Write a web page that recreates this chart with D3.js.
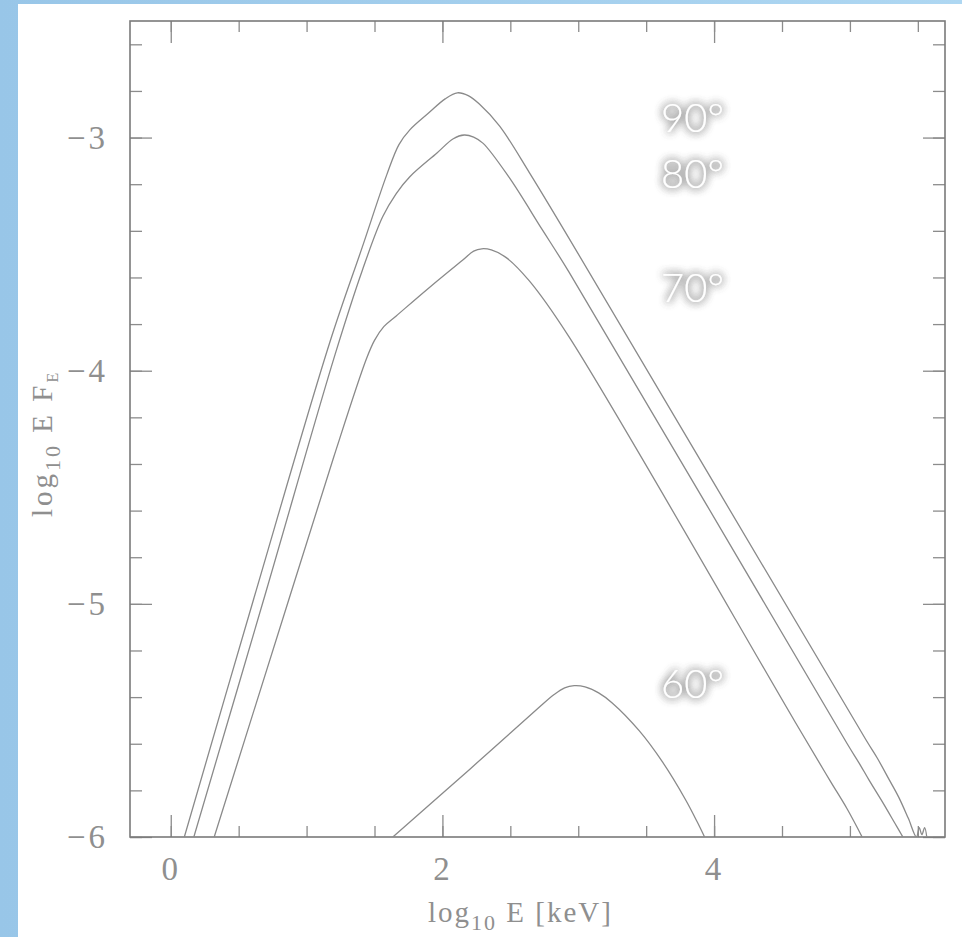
<!DOCTYPE html>
<html>
<head>
<meta charset="utf-8">
<script src="https://cdn.jsdelivr.net/npm/d3@7"></script>
<style>
  body { margin: 0; background: #fff; }
  svg { display: block; }
  .tick text { font-family: "Liberation Serif", serif; fill: #8f8f8f; }
  .tick line { stroke: #8c8c8c; stroke-width: 1.3; }
  .domain { display: none; }
</style>
</head>
<body>
<div id="chart"></div>
<script>
// spectra: [log10 E (keV), log10 E F_E]
let spectrum90 = [[0.10,-6.00],[0.61,-4.98],[1.17,-3.88],[1.41,-3.47],[1.59,-3.16],[1.68,-3.03],
    [1.76,-2.967],[1.90,-2.894],[2.02,-2.834],[2.11,-2.808],[2.19,-2.82],[2.27,-2.855],
    [2.42,-2.95],[2.64,-3.15],[2.93,-3.43],[5.12,-5.585],[5.20,-5.66],[5.29,-5.755],[5.36,-5.83],
    [5.43,-5.92],[5.49,-6.00],[5.51,-5.96],[5.53,-5.99],[5.55,-5.96],[5.57,-6.02]];
let spectrum80 = [[0.17,-6.00],[0.70,-4.95],[1.21,-3.93],[1.41,-3.57],[1.56,-3.34],
    [1.66,-3.24],[1.76,-3.168],[1.96,-3.066],[2.08,-3.005],[2.16,-2.989],[2.23,-2.998],[2.30,-3.025],
    [2.49,-3.17],[2.735,-3.395],[2.93,-3.575],[4.98,-5.60],[5.07,-5.685],
    [5.14,-5.755],[5.25,-5.86],[5.33,-5.94],[5.39,-6.00]];
let spectrum70 = [[0.32,-6.00],[0.87,-4.98],[1.20,-4.37],[1.44,-3.95],[1.50,-3.87],[1.57,-3.81],
    [1.66,-3.765],[1.90,-3.645],[2.15,-3.525],[2.23,-3.487],[2.29,-3.477],[2.36,-3.482],[2.47,-3.515],
    [2.64,-3.615],[2.93,-3.853],[4.60,-5.51],[4.85,-5.755],[4.98,-5.88],
    [5.09,-6.00]];
let spectrum60 = [[1.635,-6.00],[2.20,-5.71],[2.70,-5.45],[2.82,-5.39],[2.90,-5.36],[2.97,-5.351],
    [3.05,-5.356],[3.15,-5.382],[3.25,-5.425],[3.45,-5.545],[3.62,-5.678],[3.79,-5.84],[3.88,-5.94],
    [3.93,-6.00]];

let angles = ["90°", "80°", "70°", "60°"];
let labelX = [3.61, 3.61, 3.61, 3.61];
let labelY = [-2.976, -3.216, -3.705, -5.403];

let xMajor = [0, 2, 4];
let xMinor = d3.range(0, 5.75, 0.5);
let yMajor = [-6, -5, -4, -3];
let yMinor = d3.range(-6, -2.5, 0.2);

const W = 962, H = 937;
const plotL = 130, plotR = 945, plotT = 21, plotB = 837;

let svg = d3.select("#chart").append("svg").attr("width", W).attr("height", H);
let defs = svg.append("defs");

let grad = defs.append("linearGradient").attr("id", "strip").attr("x1", 0).attr("x2", 1);
grad.append("stop").attr("offset", 0).attr("stop-color", "#98c6e8");
grad.append("stop").attr("offset", 1).attr("stop-color", "#aed7f2");

let glow = defs.append("filter").attr("id", "glow")
    .attr("x", "-30%").attr("y", "-30%").attr("width", "160%").attr("height", "160%");
glow.append("feGaussianBlur").attr("in", "SourceAlpha").attr("stdDeviation", 4).attr("result", "blur");
glow.append("feFlood").attr("flood-color", "#666").attr("result", "col");
glow.append("feComposite").attr("in", "col").attr("in2", "blur").attr("operator", "in").attr("result", "shadow");
let merge = glow.append("feMerge");
merge.append("feMergeNode").attr("in", "shadow");
merge.append("feMergeNode").attr("in", "shadow");
merge.append("feMergeNode").attr("in", "SourceGraphic");

defs.append("clipPath").attr("id", "plotclip")
    .append("rect").attr("x", plotL).attr("y", plotT).attr("width", plotR - plotL).attr("height", plotB - plotT);

// page background: blue strips left and top
svg.append("rect").attr("width", W).attr("height", H).attr("fill", "url(#strip)");
svg.append("rect").attr("x", 18).attr("y", 4).attr("width", W - 18).attr("height", H - 4).attr("fill", "#fff");

let x = d3.scaleLinear().domain([-0.3, 5.7]).range([plotL, plotR]);
let y = d3.scaleLinear().domain([-6, -2.5]).range([plotB, plotT]);

function addAxis(axis, tx, ty, fontSize) {
    let g = svg.append("g").attr("transform", `translate(${tx},${ty})`).call(axis);
    g.selectAll("text").style("font-size", (fontSize || 10) + "px").attr("letter-spacing", 3);
    return g;
}

let fmt = d3.format("d");
let none = () => "";

// minor ticks on all four sides
addAxis(d3.axisBottom(x).tickValues(xMinor).tickSize(-11).tickFormat(none), 0, plotB);
addAxis(d3.axisTop(x).tickValues(xMinor).tickSize(-11).tickFormat(none), 0, plotT);
addAxis(d3.axisLeft(y).tickValues(yMinor).tickSize(-12).tickFormat(none), plotL, 0);
addAxis(d3.axisRight(y).tickValues(yMinor).tickSize(-12).tickFormat(none), plotR, 0);

// major ticks
addAxis(d3.axisBottom(x).tickValues(xMajor).tickSize(-22).tickPadding(20).tickFormat(fmt), 0, plotB, 33);
addAxis(d3.axisTop(x).tickValues(xMajor).tickSize(-22).tickFormat(none), 0, plotT);
addAxis(d3.axisLeft(y).tickValues(yMajor).tickSize(-22).tickPadding(22).tickFormat(fmt), plotL, 0, 33);
addAxis(d3.axisRight(y).tickValues(yMajor).tickSize(-22).tickFormat(none), plotR, 0);

svg.append("rect")
    .attr("x", plotL).attr("y", plotT)
    .attr("width", plotR - plotL).attr("height", plotB - plotT)
    .attr("fill", "none").attr("stroke", "#7a7a7a").attr("stroke-width", 1.6);

let line = d3.line()
    .x(d => x(d[0]))
    .y(d => y(d[1]))
    .curve(d3.curveCatmullRom.alpha(0.5));

svg.append("g").attr("clip-path", "url(#plotclip)")
    .selectAll("path")
    .data([spectrum90, spectrum80, spectrum70, spectrum60])
    .enter().append("path")
    .attr("d", line)
    .attr("fill", "none")
    .attr("stroke", "#8a8a8a")
    .attr("stroke-width", 1.3);

// axis titles
let xt = svg.append("text")
    .attr("x", 428).attr("y", 922)
    .attr("font-family", "Liberation Serif, serif")
    .attr("font-size", 29).attr("fill", "#8f8f8f").attr("letter-spacing", 2);
xt.append("tspan").text("log");
xt.append("tspan").attr("font-size", 22).attr("dy", 8).text("10");
xt.append("tspan").attr("dy", -8).text(" E [keV]");

let yt = svg.append("text")
    .attr("transform", "translate(52,517) rotate(-90)")
    .attr("font-family", "Liberation Serif, serif")
    .attr("font-size", 29).attr("fill", "#8f8f8f").attr("letter-spacing", 3);
yt.append("tspan").text("log");
yt.append("tspan").attr("font-size", 22).attr("dy", 8).text("10");
yt.append("tspan").attr("dy", -8).text(" E  F");
yt.append("tspan").attr("font-size", 16).attr("dy", 6).text("E");

// angle labels
svg.append("g").selectAll("text")
    .data(angles)
    .enter().append("text")
    .attr("x", (d, i) => x(labelX[i]))
    .attr("y", (d, i) => y(labelY[i]))
    .attr("font-family", "Lato, sans-serif")
    .attr("font-weight", 300)
    .attr("font-size", 40)
    .attr("fill", "#fff")
    .attr("filter", "url(#glow)")
    .text(d => d);
</script>
</body>
</html>
